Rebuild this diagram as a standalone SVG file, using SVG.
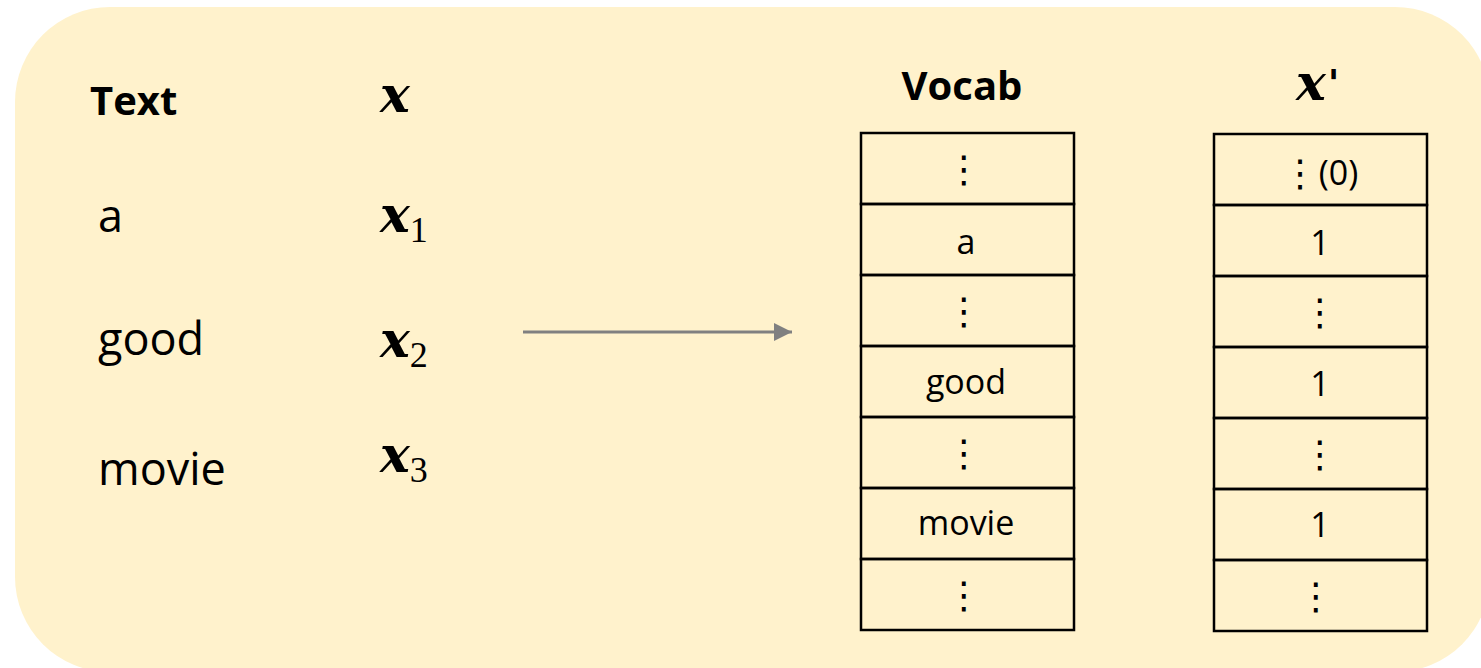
<svg xmlns="http://www.w3.org/2000/svg" width="1481" height="668" viewBox="0 0 1481 668">
  <style>
    .lbl { font-family: "Open Sans", "Noto Sans", sans-serif; fill: #000; }
    .head { font-weight: bold; font-size: 40px; }
    .word { font-size: 45px; }
    .math { font-family: "DejaVu Serif", "Liberation Serif", serif; font-weight: bold; font-style: italic; font-size: 50px; fill: #000; }
    .sub { font-family: "Liberation Serif", "DejaVu Serif", serif; font-size: 36px; fill: #000; }
    .cell { fill: none; stroke: #000; stroke-width: 2.5; }
    .ct { font-family: "Open Sans", "Noto Sans", sans-serif; font-size: 34px; fill: #000; text-anchor: middle; }
    .dots { font-family: "DejaVu Sans", sans-serif; font-size: 37px; fill: #000; text-anchor: middle; }
    .conn { stroke: #808080; stroke-width: 3; fill: none; }
  </style>
  <defs>
    <marker id="arrowhead" markerWidth="6" markerHeight="6" refX="6" refY="3" orient="auto" markerUnits="strokeWidth">
      <path d="M0,0 L6,3 L0,6 Z" fill="#808080"/>
    </marker>
  </defs>

  <!-- panel background -->
  <rect x="15" y="7" width="1475" height="665" rx="95" ry="95" fill="#FFF2CC"/>

  <!-- input column: words and their tokens -->
  <g id="text-column">
    <text class="lbl head" x="90" y="115">Text</text>
    <text class="lbl word" x="98" y="232">a</text>
    <text class="lbl word" x="98" y="355">good</text>
    <text class="lbl word" x="98" y="485">movie</text>
  </g>
  <g id="x-column">
    <text class="math" x="380" y="112">x</text>
    <text x="380" y="232"><tspan class="math">x</tspan><tspan class="sub" dy="10">1</tspan></text>
    <text x="380" y="357"><tspan class="math">x</tspan><tspan class="sub" dy="10">2</tspan></text>
    <text x="380" y="472"><tspan class="math">x</tspan><tspan class="sub" dy="10">3</tspan></text>
  </g>

  <!-- connectors -->
  <g id="connectors">
    <line class="conn" x1="523" y1="332" x2="792" y2="332" marker-end="url(#arrowhead)"/>
  </g>

  <!-- vocabulary table -->
  <g id="vocab">
    <text class="lbl head" x="962" y="100" text-anchor="middle">Vocab</text>
    <rect class="cell" x="861" y="133" width="213" height="71"/>
    <rect class="cell" x="861" y="204" width="213" height="71"/>
    <rect class="cell" x="861" y="275" width="213" height="71"/>
    <rect class="cell" x="861" y="346" width="213" height="71"/>
    <rect class="cell" x="861" y="417" width="213" height="71"/>
    <rect class="cell" x="861" y="488" width="213" height="71"/>
    <rect class="cell" x="861" y="559" width="213" height="71"/>
    <text class="dots" x="964" y="182">⋮</text>
    <text class="ct" x="966" y="254">a</text>
    <text class="dots" x="964" y="324">⋮</text>
    <text class="ct" x="966" y="394">good</text>
    <text class="dots" x="964" y="466">⋮</text>
    <text class="ct" x="966" y="535">movie</text>
    <text class="dots" x="964" y="608">⋮</text>
  </g>

  <!-- bag-of-words vector -->
  <g id="x-prime">
    <text class="math" x="1296" y="100">x<tspan font-family="DejaVu Sans, sans-serif" font-size="38" dx="2" dy="-4">'</tspan></text>
    <rect class="cell" x="1214" y="134" width="213" height="71"/>
    <rect class="cell" x="1214" y="205" width="213" height="71"/>
    <rect class="cell" x="1214" y="276" width="213" height="71"/>
    <rect class="cell" x="1214" y="347" width="213" height="71"/>
    <rect class="cell" x="1214" y="418" width="213" height="71"/>
    <rect class="cell" x="1214" y="489" width="213" height="71"/>
    <rect class="cell" x="1214" y="560" width="213" height="71"/>
    <text x="1320" y="186" text-anchor="middle"><tspan class="dots">⋮</tspan><tspan class="ct" dy="-1">(0)</tspan></text>
    <text class="ct" x="1320" y="255">1</text>
    <text class="dots" x="1320" y="325">⋮</text>
    <text class="ct" x="1320" y="396">1</text>
    <text class="dots" x="1320" y="467">⋮</text>
    <text class="ct" x="1320" y="537">1</text>
    <text class="dots" x="1316" y="609">⋮</text>
  </g>
</svg>
